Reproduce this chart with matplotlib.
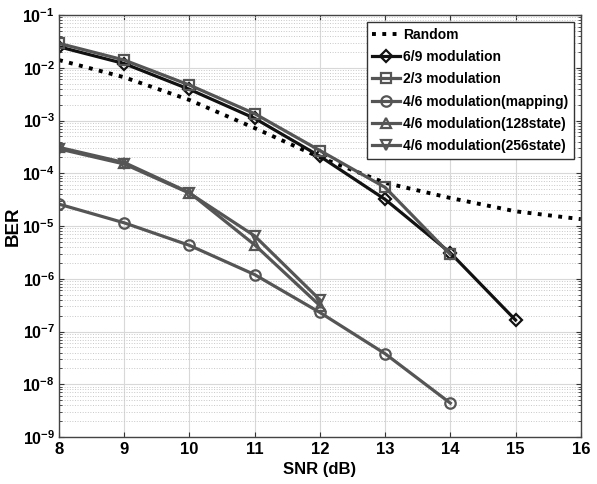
import numpy as np
import matplotlib
matplotlib.use('Agg')
import matplotlib.pyplot as plt

plt.rcParams['font.family'] = ['Liberation Sans', 'DejaVu Sans']
plt.rcParams['font.weight'] = 'bold'
plt.rcParams['mathtext.fontset'] = 'custom'
plt.rcParams['mathtext.rm'] = 'Liberation Sans:bold'
plt.rcParams['mathtext.bf'] = 'Liberation Sans:bold'

# 数据
snr_random = [8, 9, 10, 11, 12, 13, 14, 15, 16]
ber_random = [1.4e-2, 6.6e-3, 2.45e-3, 7.2e-4, 2.0e-4, 6.6e-5, 3.4e-5, 1.9e-5, 1.35e-5]

snr_69 = [8, 9, 10, 11, 12, 13, 14, 15]
ber_69 = [2.5e-2, 1.2e-2, 3.9e-3, 1.1e-3, 2.1e-4, 3.2e-5, 3.1e-6, 1.65e-7]

snr_23 = [8, 9, 10, 11, 12, 13, 14]
ber_23 = [2.9e-2, 1.4e-2, 4.7e-3, 1.35e-3, 2.7e-4, 5.4e-5, 2.9e-6]

snr_map = [8, 9, 10, 11, 12, 13, 14]
ber_map = [2.6e-5, 1.15e-5, 4.3e-6, 1.2e-6, 2.3e-7, 3.8e-8, 4.4e-9]

snr_128 = [8, 9, 10, 11, 12]
ber_128 = [3.1e-4, 1.6e-4, 4.3e-5, 4.4e-6, 3.1e-7]

snr_256 = [8, 9, 10, 11, 12]
ber_256 = [2.9e-4, 1.5e-4, 4.2e-5, 6.5e-6, 4.0e-7]

fig = plt.figure(figsize=(5.97, 4.84), dpi=100)
ax = fig.add_axes([0.0988, 0.097, 0.874, 0.872])

gray = '#555555'
ax.plot(snr_random, ber_random, ':', color='black', linewidth=2.8, label='Random')
ax.plot(snr_69, ber_69, '-', color='#111111', linewidth=2.3, marker='D', markersize=6,
        markerfacecolor='none', markeredgewidth=1.6, label='6/9 modulation')
ax.plot(snr_23, ber_23, '-', color=gray, linewidth=2.3, marker='s', markersize=7,
        markerfacecolor='none', markeredgewidth=1.6, label='2/3 modulation')
ax.plot(snr_map, ber_map, '-', color=gray, linewidth=2.3, marker='o', markersize=7.5,
        markerfacecolor='none', markeredgewidth=1.6, label='4/6 modulation(mapping)')
ax.plot(snr_128, ber_128, '-', color=gray, linewidth=2.3, marker='^', markersize=7.5,
        markerfacecolor='none', markeredgewidth=1.6, label='4/6 modulation(128state)')
ax.plot(snr_256, ber_256, '-', color=gray, linewidth=2.3, marker='v', markersize=7.5,
        markerfacecolor='none', markeredgewidth=1.6, label='4/6 modulation(256state)')

ax.set_yscale('log')
ax.set_xlim(8, 16)
ax.set_ylim(1e-9, 1e-1)
ax.set_xticks(range(8, 17))
ax.set_yticks([10.0 ** k for k in range(-9, 0)])
ax.set_yticklabels([r'$\mathbf{10^{%d}}$' % k for k in range(-9, 0)])
ax.tick_params(axis='both', which='both', direction='in', top=True, right=True,
               colors='#333333')
ax.tick_params(axis='x', labelsize=12, labelcolor='black')
ax.tick_params(axis='y', labelsize=11.5, labelcolor='black', pad=3)

ax.grid(True, which='major', color='#d8d8d8', linewidth=0.8)
ax.grid(True, which='minor', axis='y', color='#c8c8c8', linestyle=':', linewidth=0.7)
for s in ax.spines.values():
    s.set_color('#444444')
    s.set_linewidth(1.0)

ax.set_xlabel('SNR (dB)', fontsize=12, fontweight='bold')
ax.set_ylabel('BER', fontsize=13.5, fontweight='bold')
ax.yaxis.set_label_coords(-0.072, 0.5)

leg = ax.legend(loc='upper right', handlelength=2.0, borderpad=0.4,
                labelspacing=0.6, handletextpad=0.2, fancybox=False, framealpha=1,
                borderaxespad=0.5, prop={'weight': 'bold', 'size': 10})
leg.get_frame().set_edgecolor('#333333')
leg.get_frame().set_linewidth(1.0)

plt.savefig('out.png', dpi=100)
plt.close()
